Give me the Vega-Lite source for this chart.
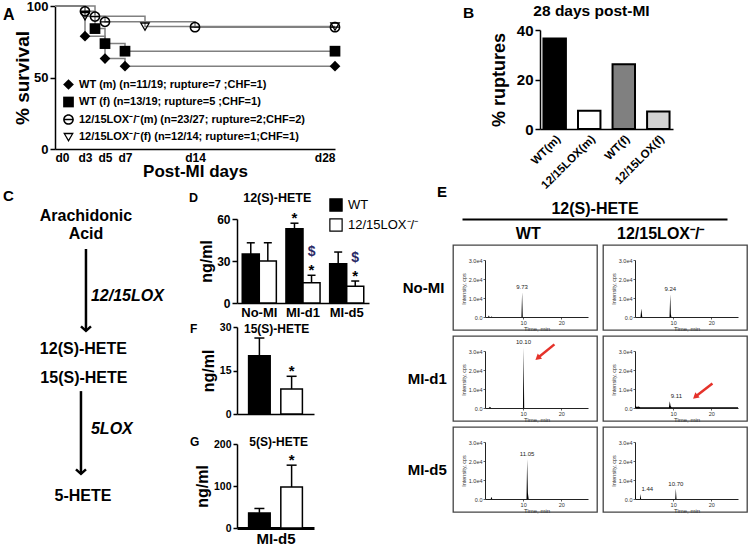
{
"$schema":"https://vega.github.io/schema/vega-lite/v6.json",
"background":"white",
"padding":{"left":3,"top":0,"right":0,"bottom":0},
"config":{
 "font":"Liberation Sans",
 "view":{"stroke":null},
 "axis":{"domainColor":"black","tickColor":"black","labelColor":"black","titleColor":"black","labelFontWeight":"bold","titleFontWeight":"bold","grid":false,"domainWidth":1.5,"tickWidth":1.5,"labelFont":"Liberation Sans","titleFont":"Liberation Sans"},
 "title":{"color":"black","fontWeight":"bold","font":"Liberation Sans"},
 "legend":{"labelColor":"black","labelFont":"Liberation Sans"},
 "text":{"font":"Liberation Sans","color":"black"}
},
"datasets":{
 "surv":[
  {"group":"WT (m) (n=11/19; rupture=7 ;CHF=1)","day":0,"surv":100},
  {"group":"WT (m) (n=11/19; rupture=7 ;CHF=1)","day":3,"surv":78.9},
  {"group":"WT (m) (n=11/19; rupture=7 ;CHF=1)","day":5,"surv":63.2},
  {"group":"WT (m) (n=11/19; rupture=7 ;CHF=1)","day":7,"surv":57.9},
  {"group":"WT (m) (n=11/19; rupture=7 ;CHF=1)","day":28,"surv":57.9},
  {"group":"WT (f) (n=13/19; rupture=5 ;CHF=1)","day":0,"surv":100},
  {"group":"WT (f) (n=13/19; rupture=5 ;CHF=1)","day":4,"surv":84.2},
  {"group":"WT (f) (n=13/19; rupture=5 ;CHF=1)","day":5,"surv":73.7},
  {"group":"WT (f) (n=13/19; rupture=5 ;CHF=1)","day":7,"surv":68.4},
  {"group":"WT (f) (n=13/19; rupture=5 ;CHF=1)","day":28,"surv":68.4},
  {"group":"12/15LOX⁻/⁻(m) (n=23/27; rupture=2;CHF=2)","day":0,"surv":100},
  {"group":"12/15LOX⁻/⁻(m) (n=23/27; rupture=2;CHF=2)","day":3,"surv":96.3},
  {"group":"12/15LOX⁻/⁻(m) (n=23/27; rupture=2;CHF=2)","day":4,"surv":92.6},
  {"group":"12/15LOX⁻/⁻(m) (n=23/27; rupture=2;CHF=2)","day":5,"surv":88.9},
  {"group":"12/15LOX⁻/⁻(m) (n=23/27; rupture=2;CHF=2)","day":14,"surv":85.2},
  {"group":"12/15LOX⁻/⁻(m) (n=23/27; rupture=2;CHF=2)","day":28,"surv":85.2},
  {"group":"12/15LOX⁻/⁻(f) (n=12/14; rupture=1;CHF=1)","day":0,"surv":100},
  {"group":"12/15LOX⁻/⁻(f) (n=12/14; rupture=1;CHF=1)","day":3,"surv":92.9},
  {"group":"12/15LOX⁻/⁻(f) (n=12/14; rupture=1;CHF=1)","day":9,"surv":85.7},
  {"group":"12/15LOX⁻/⁻(f) (n=12/14; rupture=1;CHF=1)","day":28,"surv":85.7}
 ],
 "rupt":[
  {"grp":"WT(m)","pct":36.6},
  {"grp":"12/15LOX(m)","pct":7.4},
  {"grp":"WT(f)","pct":26.2},
  {"grp":"12/15LOX(f)","pct":7.1}
 ],
 "cnodes":[
  {"kind":"node","label":"Arachidonic","x":3.16,"y":10.1},
  {"kind":"node","label":"Acid","x":3.16,"y":9.51},
  {"kind":"node","label":"12(S)-HETE","x":2.9,"y":5.79},
  {"kind":"node","label":"15(S)-HETE","x":2.95,"y":4.85},
  {"kind":"node","label":"5-HETE","x":2.86,"y":1.04},
  {"kind":"enzyme","label":"12/15LOX","x":3.67,"y":7.51},
  {"kind":"enzyme","label":"5LOX","x":3.67,"y":3.2}
 ],
 "carrows":[
  {"x":3.16,"y":9.03,"y2":6.38},
  {"x":2.65,"y":4.43,"y2":1.75}
 ],
 "hete12":[
  {"grp":"No-MI","geno":"WT","mean":35,"upper":43,"sig":""},
  {"grp":"No-MI","geno":"12/15LOX⁻/⁻","mean":30,"upper":43,"sig":""},
  {"grp":"MI-d1","geno":"WT","mean":53,"upper":57,"sig":"*"},
  {"grp":"MI-d1","geno":"12/15LOX⁻/⁻","mean":14.5,"upper":19.8,"sig":"$*"},
  {"grp":"MI-d5","geno":"WT","mean":28,"upper":36.4,"sig":""},
  {"grp":"MI-d5","geno":"12/15LOX⁻/⁻","mean":12,"upper":15.7,"sig":"$*"}
 ],
 "hete15":[
  {"geno":"WT","mean":20.1,"upper":26.2,"sig":""},
  {"geno":"12/15LOX⁻/⁻","mean":8.6,"upper":13,"sig":"*"}
 ],
 "hete5":[
  {"geno":"WT","mean":36,"upper":46.5,"sig":""},
  {"geno":"12/15LOX⁻/⁻","mean":97.6,"upper":149.6,"sig":"*"}
 ],
 "ehead":[{"col":"WT"},{"col":"12/15LOX⁻/⁻"}],
 "chrom":[
  {"id":"WT|No-MI","t":0,"v":0},{"id":"WT|No-MI","t":0.8,"v":0},{"id":"WT|No-MI","t":1.0,"v":800},{"id":"WT|No-MI","t":1.2,"v":0},{"id":"WT|No-MI","t":1.6,"v":0},{"id":"WT|No-MI","t":1.75,"v":400},{"id":"WT|No-MI","t":1.9,"v":0},{"id":"WT|No-MI","t":9.55,"v":0},{"id":"WT|No-MI","t":9.73,"v":13000},{"id":"WT|No-MI","t":9.9,"v":0},{"id":"WT|No-MI","t":27,"v":0},
  {"id":"LOX|No-MI","t":0,"v":0},{"id":"LOX|No-MI","t":1.45,"v":0},{"id":"LOX|No-MI","t":1.65,"v":4500},{"id":"LOX|No-MI","t":1.9,"v":0},{"id":"LOX|No-MI","t":9.05,"v":0},{"id":"LOX|No-MI","t":9.24,"v":12000},{"id":"LOX|No-MI","t":9.4,"v":1500},{"id":"LOX|No-MI","t":9.55,"v":0},{"id":"LOX|No-MI","t":27,"v":0},
  {"id":"WT|MI-d1","t":0,"v":0},{"id":"WT|MI-d1","t":1.0,"v":0},{"id":"WT|MI-d1","t":1.3,"v":700},{"id":"WT|MI-d1","t":1.6,"v":0},{"id":"WT|MI-d1","t":9.95,"v":0},{"id":"WT|MI-d1","t":10.1,"v":32000},{"id":"WT|MI-d1","t":10.28,"v":0},{"id":"WT|MI-d1","t":27,"v":0},
  {"id":"LOX|MI-d1","t":0,"v":300},{"id":"LOX|MI-d1","t":0.15,"v":1500},{"id":"LOX|MI-d1","t":0.4,"v":500},{"id":"LOX|MI-d1","t":0.9,"v":800},{"id":"LOX|MI-d1","t":1.4,"v":350},{"id":"LOX|MI-d1","t":8.9,"v":350},{"id":"LOX|MI-d1","t":9.11,"v":3600},{"id":"LOX|MI-d1","t":9.35,"v":900},{"id":"LOX|MI-d1","t":9.6,"v":350},{"id":"LOX|MI-d1","t":27,"v":350},
  {"id":"WT|MI-d5","t":0,"v":0},{"id":"WT|MI-d5","t":1.5,"v":0},{"id":"WT|MI-d5","t":1.7,"v":1200},{"id":"WT|MI-d5","t":1.9,"v":0},{"id":"WT|MI-d5","t":10.88,"v":0},{"id":"WT|MI-d5","t":11.05,"v":21000},{"id":"WT|MI-d5","t":11.25,"v":3000},{"id":"WT|MI-d5","t":11.45,"v":0},{"id":"WT|MI-d5","t":27,"v":0},
  {"id":"LOX|MI-d5","t":0,"v":0},{"id":"LOX|MI-d5","t":0.05,"v":4800},{"id":"LOX|MI-d5","t":0.2,"v":0},{"id":"LOX|MI-d5","t":1.3,"v":0},{"id":"LOX|MI-d5","t":1.44,"v":2600},{"id":"LOX|MI-d5","t":1.6,"v":0},{"id":"LOX|MI-d5","t":10.55,"v":0},{"id":"LOX|MI-d5","t":10.7,"v":5500},{"id":"LOX|MI-d5","t":10.88,"v":0},{"id":"LOX|MI-d5","t":27,"v":0}
 ],
 "peaks":[
  {"id":"WT|No-MI","t":9.73,"v":13000,"label":"9.73","pos":"c"},
  {"id":"LOX|No-MI","t":9.24,"v":12000,"label":"9.24","pos":"c"},
  {"id":"WT|MI-d1","t":10.1,"v":32000,"label":"10.10","pos":"c"},
  {"id":"LOX|MI-d1","t":9.11,"v":3600,"label":"9.11","pos":"r"},
  {"id":"WT|MI-d5","t":11.05,"v":21000,"label":"11.05","pos":"c"},
  {"id":"LOX|MI-d5","t":1.44,"v":2600,"label":"1.44","pos":"r"},
  {"id":"LOX|MI-d5","t":10.7,"v":5500,"label":"10.70","pos":"c"}
 ],
 "arrows":[
  {"id":"WT|MI-d1","t":13.8,"v":26300,"t2":18.2,"v2":33500},
  {"id":"LOX|MI-d1","t":15.8,"v":5900,"t2":20.3,"v2":12900}
 ]
},
"resolve":{"scale":{"fill":"independent","shape":"independent"}},
"vconcat":[
 {"hconcat":[
  {
   "width":280,"height":143,
   "title":{"text":"A","anchor":"start","frame":"group","dx":-52,"fontSize":16,"offset":-23},
   "encoding":{
    "x":{"field":"day","type":"quantitative","scale":{"domain":[0,28],"nice":false},"axis":{"values":[0,3,5,7,14,28],"labelExpr":"'d'+datum.value","title":"Post-MI days","titleFontSize":17,"labelFontSize":12,"ticks":false,"labelPadding":3,"titlePadding":0}},
    "y":{"field":"surv","type":"quantitative","scale":{"domain":[0,100]},"axis":{"values":[0,50,100],"title":"% survival","titleFontSize":19,"labelFontSize":13,"tickSize":5,"titlePadding":-6}}
   },
   "layer":[
    {"data":{"name":"surv"},"mark":{"type":"line","interpolate":"step-after","color":"#808080","strokeWidth":1.5},"encoding":{"detail":{"field":"group"}}},
    {"data":{"name":"surv"},"transform":[{"filter":"datum.day > 0"}],
     "mark":{"type":"point","filled":true,"color":"black","size":115,"opacity":1},
     "encoding":{
      "shape":{"field":"group","type":"nominal","scale":{"domain":["WT (m) (n=11/19; rupture=7 ;CHF=1)","WT (f) (n=13/19; rupture=5 ;CHF=1)","12/15LOX⁻/⁻(m) (n=23/27; rupture=2;CHF=2)","12/15LOX⁻/⁻(f) (n=12/14; rupture=1;CHF=1)"],
        "range":["diamond","square","M-1,0A1,1,0,1,1,1,0A1,1,0,1,1,-1,0ZM-0.72,0A0.72,0.72,0,1,0,0.72,0A0.72,0.72,0,1,0,-0.72,0ZM-0.72,-0.13L0.72,-0.13L0.72,0.13L-0.72,0.13Z","M-1,-0.8L1,-0.8L0,0.95ZM-0.58,-0.52L0,0.48L0.58,-0.52Z"]},
        "legend":{"orient":"none","legendX":8,"legendY":73,"title":null,"labelFontSize":11,"labelFontWeight":"bold","symbolSize":115,"symbolFillColor":"black","symbolStrokeWidth":0,"rowPadding":5.5,"padding":0,"labelOffset":5,"labelLimit":400}}
     }}
   ]
  },
  {
   "width":133,"height":123,
   "title":{"text":"28 days post-MI","anchor":"middle","frame":"group","dx":-15,"fontSize":15.5,"offset":-13},
   "data":{"name":"rupt"},
   "mark":{"type":"bar","stroke":"black","strokeWidth":2},
   "encoding":{
    "x":{"field":"grp","type":"nominal","sort":null,"scale":{"paddingInner":0.35,"paddingOuter":0.1},"axis":{"title":null,"labelAngle":-45,"labelFontSize":11.5,"ticks":false,"labelPadding":4}},
    "y":{"field":"pct","type":"quantitative","scale":{"domain":[0,40],"range":[123,24]},"axis":{"values":[0,20,40],"title":"% ruptures","titleFontSize":18,"labelFontSize":15,"tickSize":5,"titlePadding":8}},
    "fill":{"field":"grp","type":"nominal","sort":null,"scale":{"range":["black","white","#808080","#d3d3d3"]},"legend":null}
   }
  }
 ],"spacing":149,"title":{"text":"B","anchor":"start","frame":"group","dx":408,"fontSize":15.5,"offset":-21},"resolve":{"scale":{"fill":"independent","shape":"independent"}}},
 {"hconcat":[
  {"hconcat":[
   {
    "width":98,"height":309,
    "title":{"text":"C","anchor":"start","frame":"group","dx":-52,"fontSize":15,"offset":4},
    "layer":[
     {"data":{"name":"cnodes"},"transform":[{"filter":"datum.kind==='node'"}],"mark":{"type":"text","fontSize":16,"fontWeight":"bold","align":"center","baseline":"middle"},
      "encoding":{"x":{"field":"x","type":"quantitative","scale":{"domain":[0,10]},"axis":null},"y":{"field":"y","type":"quantitative","scale":{"domain":[0,10]},"axis":null},"text":{"field":"label"}}},
     {"data":{"name":"cnodes"},"transform":[{"filter":"datum.kind==='enzyme'"}],"mark":{"type":"text","fontSize":16,"fontWeight":"bold","fontStyle":"italic","align":"left","baseline":"middle"},
      "encoding":{"x":{"field":"x","type":"quantitative"},"y":{"field":"y","type":"quantitative"},"text":{"field":"label"}}},
     {"data":{"name":"carrows"},"mark":{"type":"rule","strokeWidth":2.5,"color":"black"},
      "encoding":{"x":{"field":"x","type":"quantitative"},"y":{"field":"y","type":"quantitative"},"y2":{"field":"y2"}}},
     {"data":{"name":"carrows"},"mark":{"type":"point","shape":"M-1,-0.9L0,0L1,-0.9","filled":false,"stroke":"black","strokeWidth":2.5,"size":100,"opacity":1},
      "encoding":{"x":{"field":"x","type":"quantitative"},"y":{"field":"y2","type":"quantitative"}}}
    ]
   },
   {"vconcat":[
    {
     "width":132,"height":84,
     "title":{"text":"D\u00a0\u00a0\u00a0\u00a0\u00a0\u00a0\u00a0\u00a0\u00a0\u00a0\u00a0\u00a0\u00a012(S)-HETE","anchor":"start","frame":"group","dx":-48,"fontSize":12.5,"offset":-6},
     "data":{"name":"hete12"},
     "encoding":{
      "x":{"field":"grp","type":"nominal","sort":null,"scale":{"paddingInner":0.22,"paddingOuter":0.12},"axis":{"title":null,"labelAngle":0,"labelFontSize":13,"ticks":false,"labelPadding":3}},
      "xOffset":{"field":"geno","type":"nominal","sort":["WT","12/15LOX⁻/⁻"],"scale":{"paddingInner":0,"paddingOuter":0}},
      "y":{"field":"mean","type":"quantitative","scale":{"domain":[0,60]},"axis":{"values":[0,30,60],"title":"ng/ml","titleFontSize":16,"labelFontSize":12,"tickSize":5,"titlePadding":2}}
     },
     "layer":[
      {"mark":{"type":"bar","stroke":"black","strokeWidth":1.5},"encoding":{"fill":{"field":"geno","type":"nominal","scale":{"domain":["WT","12/15LOX⁻/⁻"],"range":["black","white"]},
        "legend":{"orient":"none","legendX":92,"legendY":-21,"title":null,"symbolType":"square","symbolSize":150,"symbolStrokeColor":"black","symbolStrokeWidth":1.2,"labelFontSize":13,"labelFontWeight":"normal","rowPadding":2,"padding":0,"labelOffset":5}}}},
      {"mark":{"type":"rule","strokeWidth":1.5,"color":"black"},"encoding":{"y2":{"field":"upper"}}},
      {"mark":{"type":"tick","thickness":1.5,"size":8,"color":"black","opacity":1},"encoding":{"y":{"field":"upper","type":"quantitative"}}},
      {"transform":[{"filter":"indexof(datum.sig,'*')>=0"}],"mark":{"type":"text","text":"*","fontSize":15,"fontWeight":"bold","baseline":"alphabetic","dy":0},"encoding":{"y":{"field":"upper","type":"quantitative"}}},
      {"transform":[{"filter":"indexof(datum.sig,'$')>=0"}],"mark":{"type":"text","text":"$","fontSize":14,"fontWeight":"bold","baseline":"alphabetic","dy":-19,"color":"#2a2a66"},"encoding":{"y":{"field":"upper","type":"quantitative"}}}
     ]
    },
    {"vconcat":[
     {
      "width":77,"height":87,
      "title":{"text":"F\u00a0\u00a0\u00a0\u00a0\u00a0\u00a0\u00a0\u00a0\u00a0\u00a0\u00a0\u00a0\u00a0\u00a015(S)-HETE","anchor":"start","frame":"group","dx":-47,"fontSize":12,"offset":-14},
      "data":{"name":"hete15"},
      "encoding":{
       "x":{"field":"geno","type":"nominal","sort":null,"scale":{"paddingInner":0.33,"paddingOuter":0.36},"axis":{"title":null,"labels":false,"ticks":false}},
       "y":{"field":"mean","type":"quantitative","scale":{"domain":[0,30]},"axis":{"values":[0,15,30],"title":"ng/ml","titleFontSize":16,"labelFontSize":10.5,"tickSize":4,"titlePadding":3}}
      },
      "layer":[
       {"mark":{"type":"bar","stroke":"black","strokeWidth":1.5},"encoding":{"fill":{"field":"geno","type":"nominal","scale":{"domain":["WT","12/15LOX⁻/⁻"],"range":["black","white"]},"legend":null}}},
       {"mark":{"type":"rule","strokeWidth":1.5,"color":"black"},"encoding":{"y2":{"field":"upper"}}},
       {"mark":{"type":"tick","thickness":1.5,"size":10,"color":"black","opacity":1},"encoding":{"y":{"field":"upper","type":"quantitative"}}},
       {"transform":[{"filter":"indexof(datum.sig,'*')>=0"}],"mark":{"type":"text","text":"*","fontSize":15,"fontWeight":"bold","baseline":"alphabetic","dy":0},"encoding":{"y":{"field":"upper","type":"quantitative"}}}
      ]
     },
     {
      "width":77,"height":84,
      "title":{"text":"G\u00a0\u00a0\u00a0\u00a0\u00a0\u00a0\u00a0\u00a0\u00a0\u00a0\u00a0\u00a0\u00a0\u00a0\u00a05(S)-HETE","anchor":"start","frame":"group","dx":-47,"fontSize":12,"offset":-10},
      "data":{"name":"hete5"},
      "encoding":{
       "x":{"field":"geno","type":"nominal","sort":null,"scale":{"paddingInner":0.33,"paddingOuter":0.36},"axis":{"title":"MI-d5","titleFontSize":15,"labels":false,"ticks":false,"domainWidth":3,"titlePadding":3}},
       "y":{"field":"mean","type":"quantitative","scale":{"domain":[0,200]},"axis":{"values":[0,100,200],"title":"ng/ml","titleFontSize":16,"labelFontSize":10.5,"tickSize":4,"titlePadding":3}}
      },
      "layer":[
       {"mark":{"type":"bar","stroke":"black","strokeWidth":1.5},"encoding":{"fill":{"field":"geno","type":"nominal","scale":{"domain":["WT","12/15LOX⁻/⁻"],"range":["black","white"]},"legend":null}}},
       {"mark":{"type":"rule","strokeWidth":1.5,"color":"black"},"encoding":{"y2":{"field":"upper"}}},
       {"mark":{"type":"tick","thickness":1.5,"size":10,"color":"black","opacity":1},"encoding":{"y":{"field":"upper","type":"quantitative"}}},
       {"transform":[{"filter":"indexof(datum.sig,'*')>=0"}],"mark":{"type":"text","text":"*","fontSize":15,"fontWeight":"bold","baseline":"alphabetic","dy":0},"encoding":{"y":{"field":"upper","type":"quantitative"}}}
      ]
     }
    ],"spacing":16,"resolve":{"scale":{"fill":"independent","shape":"independent"}}}
   ],"spacing":3,"resolve":{"scale":{"fill":"independent","shape":"independent"}}}
  ],"spacing":25,"resolve":{"scale":{"fill":"independent","shape":"independent"}}},
  {"vconcat":[
   {
    "width":294,"height":19,
    "data":{"name":"ehead"},
    "mark":{"type":"text","fontSize":16,"fontWeight":"bold","baseline":"middle","dy":5},
    "encoding":{
     "x":{"field":"col","type":"nominal","sort":null,"scale":{"range":[9,274],"paddingInner":0.121,"paddingOuter":0},"axis":{"orient":"top","title":"12(S)-HETE","titleFontSize":16,"titlePadding":3,"labels":false,"ticks":false,"domainWidth":2}},
     "text":{"field":"col"}
    }
   },
   {"concat":[
    {"width":144,"height":85,"view":{"stroke":"#444","strokeWidth":1.3},
     "title":{"text":"No-MI","orient":"left","angle":0,"align":"right","baseline":"middle","anchor":"middle","offset":-33,"fontSize":15},
     "encoding":{
      "x":{"field":"t","type":"quantitative","scale":{"domain":[0,27],"range":[32,135],"nice":false,"zero":false},"axis":{"values":[10,20],"offset":-13,"title":"Time, min","labelFontSize":5.5,"labelFontWeight":"normal","labelColor":"#333","titleFontSize":6,"titleFontWeight":"normal","titleColor":"#333","tickSize":2,"tickWidth":0.8,"tickColor":"#333","domainWidth":1,"domainColor":"#222","labelPadding":1,"titlePadding":0}},
      "y":{"field":"v","type":"quantitative","scale":{"domain":[0,30000],"range":[72,15],"nice":false},"axis":{"values":[0,10000,20000,30000],"labelExpr":"datum.value===0?'0.0':format(datum.value/10000,'.1f')+'e4'","offset":-32,"title":"Intensity, cps","labelFontSize":5.5,"labelFontWeight":"normal","labelColor":"#333","titleFontSize":5.5,"titleFontWeight":"normal","titleColor":"#333","tickSize":2,"tickWidth":0.8,"tickColor":"#333","domainWidth":1,"domainColor":"#222","labelPadding":1,"titlePadding":2}}
     },
     "layer":[
      {"data":{"name":"chrom"},"transform":[{"filter":"datum.id==='WT|No-MI'"}],"mark":{"type":"area","color":"black"}},
      {"data":{"name":"peaks"},"transform":[{"filter":"datum.id==='WT|No-MI' && datum.pos==='c'"}],"mark":{"type":"text","fontSize":6,"dy":-2,"baseline":"bottom","color":"#222"},"encoding":{"text":{"field":"label"}}}
     ]},
    {"width":144,"height":85,"view":{"stroke":"#444","strokeWidth":1.3},
     "encoding":{
      "x":{"field":"t","type":"quantitative","scale":{"domain":[0,27],"range":[32,135],"nice":false,"zero":false},"axis":{"values":[10,20],"offset":-13,"title":"Time, min","labelFontSize":5.5,"labelFontWeight":"normal","labelColor":"#333","titleFontSize":6,"titleFontWeight":"normal","titleColor":"#333","tickSize":2,"tickWidth":0.8,"tickColor":"#333","domainWidth":1,"domainColor":"#222","labelPadding":1,"titlePadding":0}},
      "y":{"field":"v","type":"quantitative","scale":{"domain":[0,30000],"range":[72,15],"nice":false},"axis":{"values":[0,10000,20000,30000],"labelExpr":"datum.value===0?'0.0':format(datum.value/10000,'.1f')+'e4'","offset":-32,"title":"Intensity, cps","labelFontSize":5.5,"labelFontWeight":"normal","labelColor":"#333","titleFontSize":5.5,"titleFontWeight":"normal","titleColor":"#333","tickSize":2,"tickWidth":0.8,"tickColor":"#333","domainWidth":1,"domainColor":"#222","labelPadding":1,"titlePadding":2}}
     },
     "layer":[
      {"data":{"name":"chrom"},"transform":[{"filter":"datum.id==='LOX|No-MI'"}],"mark":{"type":"area","color":"black"}},
      {"data":{"name":"peaks"},"transform":[{"filter":"datum.id==='LOX|No-MI' && datum.pos==='c'"}],"mark":{"type":"text","fontSize":6,"dy":-2,"baseline":"bottom","color":"#222"},"encoding":{"text":{"field":"label"}}}
     ]},
    {"width":144,"height":85,"view":{"stroke":"#444","strokeWidth":1.3},
     "title":{"text":"MI-d1","orient":"left","angle":0,"align":"right","baseline":"middle","anchor":"middle","offset":-33,"fontSize":15},
     "encoding":{
      "x":{"field":"t","type":"quantitative","scale":{"domain":[0,27],"range":[32,135],"nice":false,"zero":false},"axis":{"values":[10,20],"offset":-13,"title":"Time, min","labelFontSize":5.5,"labelFontWeight":"normal","labelColor":"#333","titleFontSize":6,"titleFontWeight":"normal","titleColor":"#333","tickSize":2,"tickWidth":0.8,"tickColor":"#333","domainWidth":1,"domainColor":"#222","labelPadding":1,"titlePadding":0}},
      "y":{"field":"v","type":"quantitative","scale":{"domain":[0,30000],"range":[72,15],"nice":false},"axis":{"values":[0,10000,20000,30000],"labelExpr":"datum.value===0?'0.0':format(datum.value/10000,'.1f')+'e4'","offset":-32,"title":"Intensity, cps","labelFontSize":5.5,"labelFontWeight":"normal","labelColor":"#333","titleFontSize":5.5,"titleFontWeight":"normal","titleColor":"#333","tickSize":2,"tickWidth":0.8,"tickColor":"#333","domainWidth":1,"domainColor":"#222","labelPadding":1,"titlePadding":2}}
     },
     "layer":[
      {"data":{"name":"chrom"},"transform":[{"filter":"datum.id==='WT|MI-d1'"}],"mark":{"type":"area","color":"black"}},
      {"data":{"name":"peaks"},"transform":[{"filter":"datum.id==='WT|MI-d1' && datum.pos==='c'"}],"mark":{"type":"text","fontSize":6,"dy":-2,"baseline":"bottom","color":"#222"},"encoding":{"text":{"field":"label"}}},
      {"data":{"name":"arrows"},"transform":[{"filter":"datum.id==='WT|MI-d1'"}],"mark":{"type":"rule","color":"#e5322a","strokeWidth":2.5},"encoding":{"x2":{"field":"t2"},"y2":{"field":"v2"}}},
      {"data":{"name":"arrows"},"transform":[{"filter":"datum.id==='WT|MI-d1'"}],"mark":{"type":"point","shape":"triangle-up","angle":230,"filled":true,"color":"#e5322a","size":45,"opacity":1}}
     ]},
    {"width":144,"height":85,"view":{"stroke":"#444","strokeWidth":1.3},
     "encoding":{
      "x":{"field":"t","type":"quantitative","scale":{"domain":[0,27],"range":[32,135],"nice":false,"zero":false},"axis":{"values":[10,20],"offset":-13,"title":"Time, min","labelFontSize":5.5,"labelFontWeight":"normal","labelColor":"#333","titleFontSize":6,"titleFontWeight":"normal","titleColor":"#333","tickSize":2,"tickWidth":0.8,"tickColor":"#333","domainWidth":1,"domainColor":"#222","labelPadding":1,"titlePadding":0}},
      "y":{"field":"v","type":"quantitative","scale":{"domain":[0,30000],"range":[72,15],"nice":false},"axis":{"values":[0,10000,20000,30000],"labelExpr":"datum.value===0?'0.0':format(datum.value/10000,'.1f')+'e4'","offset":-32,"title":"Intensity, cps","labelFontSize":5.5,"labelFontWeight":"normal","labelColor":"#333","titleFontSize":5.5,"titleFontWeight":"normal","titleColor":"#333","tickSize":2,"tickWidth":0.8,"tickColor":"#333","domainWidth":1,"domainColor":"#222","labelPadding":1,"titlePadding":2}}
     },
     "layer":[
      {"data":{"name":"chrom"},"transform":[{"filter":"datum.id==='LOX|MI-d1'"}],"mark":{"type":"area","color":"black"}},
      {"data":{"name":"peaks"},"transform":[{"filter":"datum.id==='LOX|MI-d1' && datum.pos==='r'"}],"mark":{"type":"text","fontSize":6,"dy":-2,"dx":1,"align":"left","baseline":"bottom","color":"#222"},"encoding":{"text":{"field":"label"}}},
      {"data":{"name":"arrows"},"transform":[{"filter":"datum.id==='LOX|MI-d1'"}],"mark":{"type":"rule","color":"#e5322a","strokeWidth":2.5},"encoding":{"x2":{"field":"t2"},"y2":{"field":"v2"}}},
      {"data":{"name":"arrows"},"transform":[{"filter":"datum.id==='LOX|MI-d1'"}],"mark":{"type":"point","shape":"triangle-up","angle":230,"filled":true,"color":"#e5322a","size":45,"opacity":1}}
     ]},
    {"width":144,"height":85,"view":{"stroke":"#444","strokeWidth":1.3},
     "title":{"text":"MI-d5","orient":"left","angle":0,"align":"right","baseline":"middle","anchor":"middle","offset":-33,"fontSize":15},
     "encoding":{
      "x":{"field":"t","type":"quantitative","scale":{"domain":[0,27],"range":[32,135],"nice":false,"zero":false},"axis":{"values":[10,20],"offset":-13,"title":"Time, min","labelFontSize":5.5,"labelFontWeight":"normal","labelColor":"#333","titleFontSize":6,"titleFontWeight":"normal","titleColor":"#333","tickSize":2,"tickWidth":0.8,"tickColor":"#333","domainWidth":1,"domainColor":"#222","labelPadding":1,"titlePadding":0}},
      "y":{"field":"v","type":"quantitative","scale":{"domain":[0,30000],"range":[72,15],"nice":false},"axis":{"values":[0,10000,20000,30000],"labelExpr":"datum.value===0?'0.0':format(datum.value/10000,'.1f')+'e4'","offset":-32,"title":"Intensity, cps","labelFontSize":5.5,"labelFontWeight":"normal","labelColor":"#333","titleFontSize":5.5,"titleFontWeight":"normal","titleColor":"#333","tickSize":2,"tickWidth":0.8,"tickColor":"#333","domainWidth":1,"domainColor":"#222","labelPadding":1,"titlePadding":2}}
     },
     "layer":[
      {"data":{"name":"chrom"},"transform":[{"filter":"datum.id==='WT|MI-d5'"}],"mark":{"type":"area","color":"black"}},
      {"data":{"name":"peaks"},"transform":[{"filter":"datum.id==='WT|MI-d5' && datum.pos==='c'"}],"mark":{"type":"text","fontSize":6,"dy":-2,"baseline":"bottom","color":"#222"},"encoding":{"text":{"field":"label"}}}
     ]},
    {"width":144,"height":85,"view":{"stroke":"#444","strokeWidth":1.3},
     "encoding":{
      "x":{"field":"t","type":"quantitative","scale":{"domain":[0,27],"range":[32,135],"nice":false,"zero":false},"axis":{"values":[10,20],"offset":-13,"title":"Time, min","labelFontSize":5.5,"labelFontWeight":"normal","labelColor":"#333","titleFontSize":6,"titleFontWeight":"normal","titleColor":"#333","tickSize":2,"tickWidth":0.8,"tickColor":"#333","domainWidth":1,"domainColor":"#222","labelPadding":1,"titlePadding":0}},
      "y":{"field":"v","type":"quantitative","scale":{"domain":[0,30000],"range":[72,15],"nice":false},"axis":{"values":[0,10000,20000,30000],"labelExpr":"datum.value===0?'0.0':format(datum.value/10000,'.1f')+'e4'","offset":-32,"title":"Intensity, cps","labelFontSize":5.5,"labelFontWeight":"normal","labelColor":"#333","titleFontSize":5.5,"titleFontWeight":"normal","titleColor":"#333","tickSize":2,"tickWidth":0.8,"tickColor":"#333","domainWidth":1,"domainColor":"#222","labelPadding":1,"titlePadding":2}}
     },
     "layer":[
      {"data":{"name":"chrom"},"transform":[{"filter":"datum.id==='LOX|MI-d5'"}],"mark":{"type":"area","color":"black"}},
      {"data":{"name":"peaks"},"transform":[{"filter":"datum.id==='LOX|MI-d5' && datum.pos==='c'"}],"mark":{"type":"text","fontSize":6,"dy":-2,"baseline":"bottom","color":"#222"},"encoding":{"text":{"field":"label"}}},
      {"data":{"name":"peaks"},"transform":[{"filter":"datum.id==='LOX|MI-d5' && datum.pos==='r'"}],"mark":{"type":"text","fontSize":6,"dy":-2,"dx":1,"align":"left","baseline":"bottom","color":"#222"},"encoding":{"text":{"field":"label"}}}
     ]}
   ],"columns":2,"spacing":6,"bounds":"flush"}
  ],"spacing":2,"title":{"text":"E","anchor":"start","frame":"group","dx":-16,"fontSize":15,"offset":0}}
 ],"spacing":-17,"resolve":{"scale":{"fill":"independent","shape":"independent"}}}
],
"spacing":-6
}
